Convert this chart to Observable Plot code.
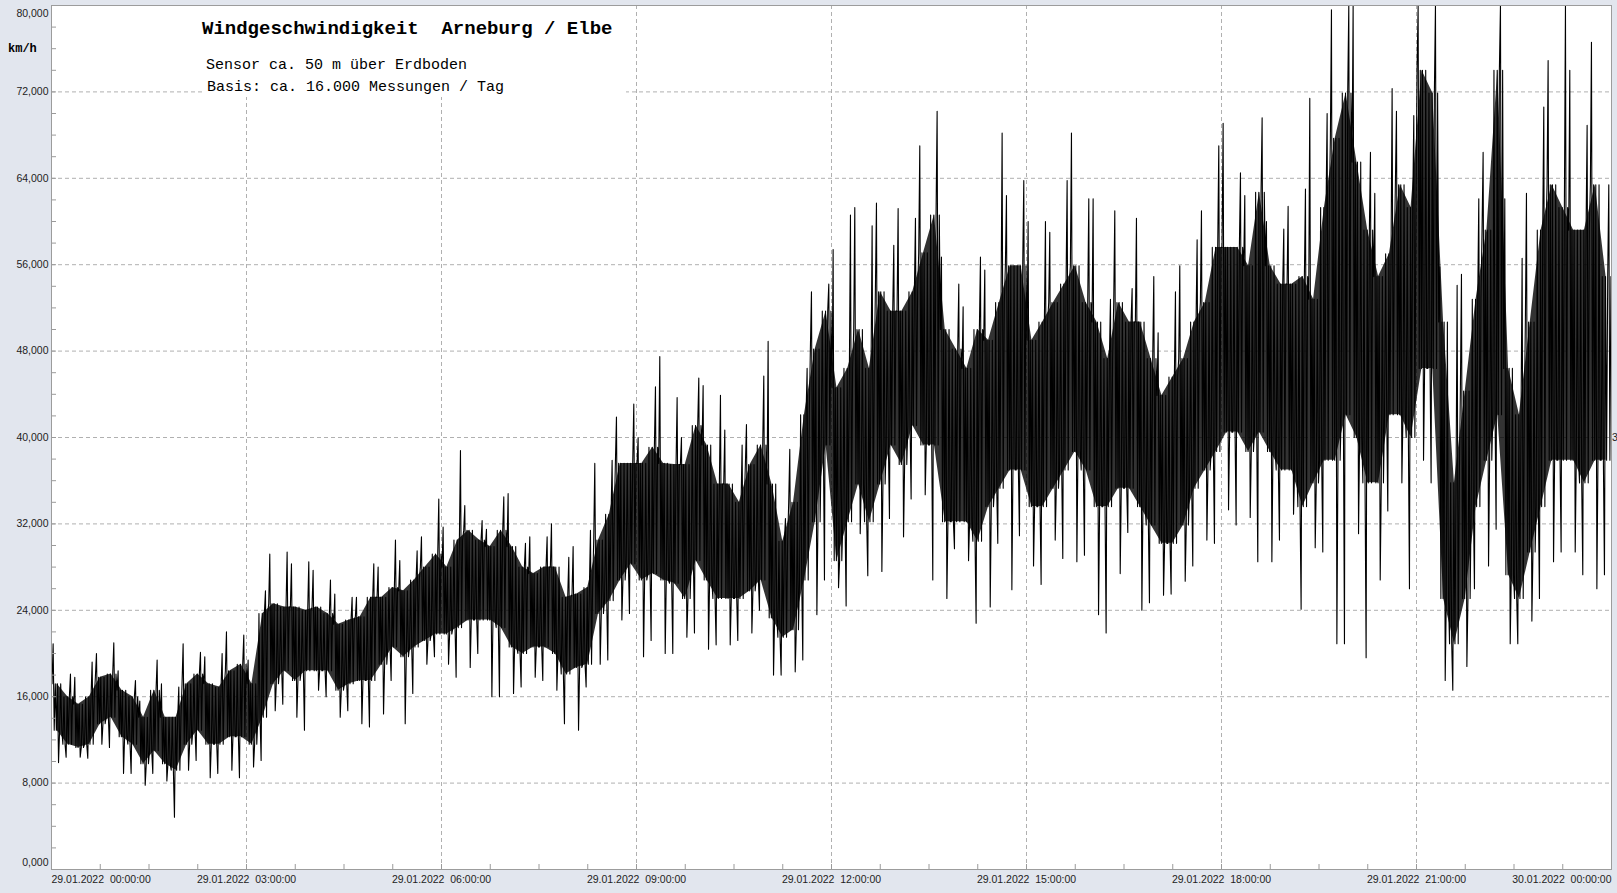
<!DOCTYPE html>
<html><head><meta charset="utf-8">
<script src="https://cdn.jsdelivr.net/npm/d3@7"></script>
<script src="https://cdn.jsdelivr.net/npm/@observablehq/plot@0.6"></script>
<style>
html,body{margin:0;padding:0}
body{background:#e2e6ee;width:1617px;height:893px;overflow:hidden;position:relative;font-family:"Liberation Sans",Arial,sans-serif}
#chart{position:absolute;left:0;top:0}
#chart svg text{white-space:pre}
#titlebox{position:absolute;left:203px;top:6px;width:423px;height:91px;background:#fff}
.t{position:absolute;font-family:"Liberation Mono","Courier New",monospace;color:#000;white-space:pre;line-height:1}
</style></head><body>
<div id="chart"></div>
<div id="titlebox"></div>
<div class="t" style="left:202px;top:20px;font-size:19px;font-weight:bold">Windgeschwindigkeit  Arneburg / Elbe</div>
<div class="t" style="left:206px;top:58px;font-size:15px">Sensor ca. 50 m über Erdboden</div>
<div class="t" style="left:207px;top:80px;font-size:15px">Basis: ca. 16.000 Messungen / Tag</div>
<div class="t" style="left:8px;top:43px;font-size:12px;font-weight:bold">km/h</div>
<div style="position:absolute;left:1612px;top:431px;font-size:10.5px;color:#222">3</div>
<script>
// ---- data (km/h), one entry per 10-minute interval, 29.01.2022 00:00 .. 24:00 ----
const binMinutes = 10;
const peakHi = [
20.9,18.1,17.8,19.2,20.0,21.0,18.4,17.5,15.6,19.4,
17.2,16.9,20.9,20.1,19.7,20.0,22.0,21.7,19.4,25.8,
29.2,29.4,28.3,28.5,27.7,26.8,25.5,25.2,25.2,28.3,
28.0,30.5,28.6,29.5,30.8,34.3,31.7,38.8,33.7,32.3,
31.5,34.5,34.8,30.2,30.8,30.8,32.0,28.9,29.9,31.4,
37.6,37.9,41.9,43.1,40.0,44.7,47.5,43.7,40.0,45.5,
44.8,43.9,40.7,39.3,41.2,45.7,48.9,32.5,38.9,46.4,
53.5,54.2,57.4,60.6,61.3,59.6,61.7,57.8,61.2,60.3,
67.0,70.2,56.7,54.2,52.1,56.7,55.5,68.2,62.4,63.8,
60.0,60.0,59.0,63.8,68.2,62.1,62.1,52.8,61.0,53.8,
60.3,54.9,49.7,53.5,55.9,58.3,61.0,67.0,69.1,64.5,
62.4,69.6,60.0,59.3,61.4,63.0,71.4,70.0,79.6,80.0,
80.0,66.4,62.6,72.3,70.2,69.8,80.0,80.0,55.8,54.1,
55.1,62.1,66.4,80.0,62.1,56.6,62.6,70.6,74.9,80.0,
74.0,68.9,76.6,63.4];
const peakLo = [
9.9,10.4,10.4,10.3,11.6,11.3,8.9,8.9,7.8,8.9,
8.2,4.85,9.2,10.1,8.5,8.9,9.2,8.5,9.5,10.1,
14.7,15.3,14.1,12.9,16.6,16.0,14.1,14.7,13.5,13.2,
14.4,17.5,13.5,16.3,19.0,19.7,19.0,17.8,18.7,20.0,
16.0,16.0,16.3,16.9,17.8,17.5,16.6,13.5,12.9,16.9,
19.0,19.4,23.1,23.7,19.7,21.2,20.0,20.0,21.5,21.9,
20.4,20.8,20.8,21.2,21.9,24.0,18.0,18.0,18.3,19.4,
23.6,26.8,26.1,24.4,31.1,27.2,27.6,32.5,30.8,34.3,
34.7,26.8,25.1,29.7,28.6,22.8,24.3,30.2,25.9,30.9,
28.1,26.4,30.5,28.8,28.5,29.1,23.6,21.9,27.4,31.2,
24.0,24.7,25.4,25.5,26.7,28.1,30.5,30.2,33.3,31.9,
32.6,28.5,28.5,30.5,32.9,24.1,29.8,29.4,20.9,20.9,
31.1,19.6,26.8,33.2,35.8,26.0,37.9,35.8,17.5,16.6,
18.8,26.0,28.1,31.5,20.9,20.9,23.0,25.1,28.5,29.4,
29.4,27.3,26.0,27.3];
const coreHi = [
17.2,16.0,15.3,16.0,17.8,18.1,16.6,16.0,14.1,16.6,
14.1,14.1,17.2,18.1,17.2,16.9,18.4,19.0,17.2,23.7,
24.6,24.3,24.3,24.0,24.3,23.7,22.7,23.1,23.4,25.2,
25.2,26.1,25.8,26.8,28.0,29.2,28.0,30.5,31.4,30.5,
29.9,31.4,29.9,28.0,27.4,28.0,28.0,25.2,25.5,26.1,
30.5,32.9,37.6,37.6,37.6,39.1,37.6,37.5,37.5,41.1,
39.3,35.7,35.7,34.0,37.5,39.3,35.7,30.4,34.0,42.1,
48.2,51.7,44.6,46.4,50.0,46.4,53.5,51.7,51.7,53.5,
57.1,60.6,50.0,48.2,46.4,50.0,49.0,52.5,55.9,55.9,
49.0,50.7,52.5,54.2,55.9,52.5,50.7,47.3,52.5,50.7,
50.7,47.3,43.9,45.6,47.3,50.7,52.5,57.6,57.6,57.6,
55.9,62.7,55.9,54.2,54.2,54.9,52.8,61.3,67.7,71.9,
65.5,59.2,54.9,57.0,63.4,61.3,74.0,71.9,50.7,35.8,
44.3,52.8,59.2,74.0,46.4,42.1,50.7,59.2,63.4,61.3,
59.2,59.2,63.4,54.9];
const coreLo = [
12.9,11.6,11.3,11.6,13.5,14.1,12.3,11.6,9.8,11.0,
9.8,9.2,11.6,12.9,11.6,11.6,12.3,12.3,11.6,14.1,
17.2,18.4,17.5,18.4,18.4,18.4,16.6,17.2,17.5,17.5,
19.0,20.6,19.7,20.6,21.2,21.8,21.8,22.4,23.1,23.1,
23.1,22.4,20.6,20.0,20.6,20.6,20.0,18.1,18.7,19.0,
23.7,24.9,26.8,28.3,26.8,27.4,26.8,26.5,25.1,28.6,
26.8,25.1,25.1,25.1,25.8,26.8,23.3,21.5,22.2,26.8,
32.2,39.3,28.6,32.2,35.7,32.2,35.7,39.3,37.5,41.1,
39.3,39.3,32.2,32.2,32.2,30.4,33.6,35.3,37.0,37.0,
33.6,33.6,35.3,37.0,38.7,37.0,33.6,33.6,35.3,35.3,
33.6,31.9,30.2,30.2,31.9,35.3,37.0,38.7,40.5,40.5,
38.7,40.5,38.7,37.0,37.0,33.6,35.8,37.9,37.9,42.1,
40.0,35.8,35.8,42.1,42.1,40.0,46.4,46.4,25.1,20.9,
25.1,33.6,37.9,42.1,27.3,25.1,29.4,33.6,37.9,37.9,
37.9,35.8,37.9,37.9];

const yTickValues = [0,8,16,24,32,40,48,56,64,72,80];
const yTickLabels = ["0,000","8,000","16,000","24,000","32,000","40,000","48,000","56,000","64,000","72,000","80,000"];
const xTickHours = [0,3,6,9,12,15,18,21,24];
const xTickLabels = ["29.01.2022  00:00:00","29.01.2022  03:00:00","29.01.2022  06:00:00","29.01.2022  09:00:00",
  "29.01.2022  12:00:00","29.01.2022  15:00:00","29.01.2022  18:00:00","29.01.2022  21:00:00","30.01.2022  00:00:00"];

// ---- tables: dense core band + a polyline of strokes through each interval's extremes ----
const band = coreHi.map((h, i) => ({t: (i * binMinutes + binMinutes / 2) / 60, hi: h, lo: coreLo[i]}));
const pts = [];
coreHi.forEach((_, i) => {
  const H = peakHi[i], L = peakLo[i], ch = coreHi[i], cl = coreLo[i];
  const seq = i % 2 === 0
    ? [ch, H, cl, ch, cl, ch, L, cl, ch, cl]
    : [cl, ch, cl, L, ch, cl, ch, H, cl, ch];
  seq.forEach((v, j) => pts.push({t: (i * binMinutes + (j + 0.5) * binMinutes / seq.length) / 60, v}));
});
const yLab = yTickValues.map((v, i) => ({v, s: yTickLabels[i]}));
const xLab = xTickHours.map((h, i) => ({h, s: xTickLabels[i]}));
const minorY = d3.range(0, 80.001, 2);
const minorX = d3.range(0, 24.001, 0.75);
const gridY = yTickValues.filter(v => v > 0 && v < 80);
const gridX = xTickHours.filter(h => h > 0 && h < 24);
const lab = {fontSize: 10.5, fill: "#222"};

const chart = Plot.plot({
  width: 1617, height: 893,
  marginLeft: 51, marginRight: 6, marginTop: 5, marginBottom: 24,
  x: {domain: [0, 24], axis: null},
  y: {domain: [0, 80], axis: null},
  style: {background: "transparent", fontFamily: "Liberation Sans, Arial, sans-serif", overflow: "visible"},
  marks: [
    Plot.frame({fill: "white"}),
    Plot.gridY(gridY, {stroke: "#b0b0b0", strokeOpacity: 1, strokeDasharray: "4,3"}),
    Plot.gridX(gridX, {stroke: "#b0b0b0", strokeOpacity: 1, strokeDasharray: "4,3"}),
    Plot.areaY(band, {x: "t", y1: "lo", y2: "hi", fill: "black", fillOpacity: 0.8, curve: "linear"}),
    Plot.line(pts, {x: "t", y: "v", stroke: "black", strokeWidth: 1.1, clip: true}),
    Plot.axisY(minorY, {tickSize: -5, tickFormat: () => "", stroke: "#9a9a9a", label: null}),
    Plot.axisX(minorX, {tickSize: -5, tickFormat: () => "", stroke: "#9a9a9a", label: null}),
    Plot.frame({stroke: "#9c9c9c"}),
    Plot.text(yLab.filter(d => d.v > 0 && d.v < 80), {y: "v", text: "s", frameAnchor: "left", textAnchor: "end", dx: -3, ...lab}),
    Plot.text(yLab.filter(d => d.v === 0), {y: "v", text: "s", frameAnchor: "left", textAnchor: "end", dx: -3, dy: -7, ...lab}),
    Plot.text(yLab.filter(d => d.v === 80), {y: "v", text: "s", frameAnchor: "left", textAnchor: "end", dx: -3, dy: 8, ...lab}),
    Plot.text(xLab.filter(d => d.h > 0 && d.h < 24), {x: "h", text: "s", frameAnchor: "bottom", dy: 13, textAnchor: "middle", ...lab}),
    Plot.text(xLab.filter(d => d.h === 0), {x: "h", text: "s", frameAnchor: "bottom", dy: 13, textAnchor: "start", ...lab}),
    Plot.text(xLab.filter(d => d.h === 24), {x: "h", text: "s", frameAnchor: "bottom", dy: 13, textAnchor: "end", ...lab})
  ]
});
document.getElementById("chart").appendChild(chart);
</script>
</body></html>
